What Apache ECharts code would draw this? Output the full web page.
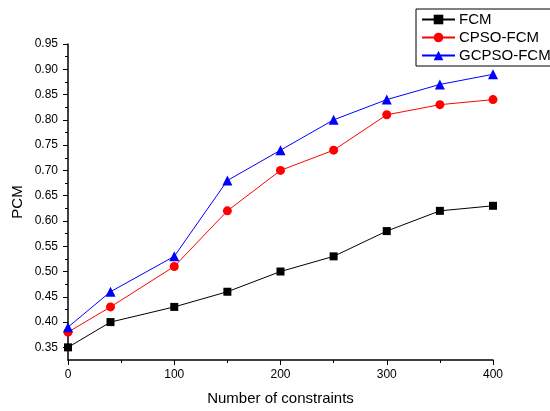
<!DOCTYPE html>
<html>
<head>
<meta charset="utf-8">
<script src="https://cdn.jsdelivr.net/npm/echarts@6/dist/echarts.min.js"></script>
<style>
html,body{margin:0;padding:0;background:#fff;}
#chart{width:550px;height:411px;}
</style>
</head>
<body>
<div id="chart"></div>
<script>
// data
var xVals = [0, 40, 100, 150, 200, 250, 300, 350, 400];
var fcm = [0.35, 0.40, 0.43, 0.46, 0.50, 0.53, 0.58, 0.62, 0.63];
var cpso = [0.38, 0.43, 0.51, 0.62, 0.70, 0.74, 0.81, 0.83, 0.84];
var gcpso = [0.39, 0.46, 0.53, 0.68, 0.74, 0.80, 0.84, 0.87, 0.89];
var yMajor = [0.35, 0.40, 0.45, 0.50, 0.55, 0.60, 0.65, 0.70, 0.75, 0.80, 0.85, 0.90, 0.95];
var yMinor = [0.375, 0.425, 0.475, 0.525, 0.575, 0.625, 0.675, 0.725, 0.775, 0.825, 0.875, 0.925];

function pairs(ys) {
	return xVals.map(function (x, i) { return [x, ys[i]]; });
}

var myChart = echarts.init(document.getElementById('chart'));
var font = 'Liberation Sans, Arial, sans-serif';

var option = {
	animation: false,
	grid: { left: 68, right: 57, top: 44, bottom: 51 },
	legend: {
		orient: 'vertical',
		left: 416,
		top: 9,
		padding: [3, 12, 3, 5],
		itemGap: 3,
		itemWidth: 33,
		itemHeight: 12,
		borderColor: '#000',
		borderWidth: 1,
		borderRadius: 0,
		textStyle: { fontFamily: font, fontSize: 15, color: '#000', padding: [0, 0, 0, -1] },
		data: ['FCM', 'CPSO-FCM', 'GCPSO-FCM']
	},
	xAxis: {
		type: 'value',
		min: 0, max: 400, interval: 100,
		name: 'Number of constraints',
		nameLocation: 'middle',
		nameGap: 31,
		nameMoveOverlap: false,
		nameTextStyle: { fontFamily: font, fontSize: 15, color: '#000' },
		axisLine: { lineStyle: { color: '#000', width: 1.5 } },
		axisTick: { length: 5, lineStyle: { color: '#000' } },
		minorTick: { show: true, splitNumber: 2, length: 3, lineStyle: { color: '#000' } },
		axisLabel: { fontFamily: font, fontSize: 12, color: '#000', margin: 9 },
		splitLine: { show: false }
	},
	yAxis: [{
		type: 'value',
		min: 0.325, max: 0.95,
		name: 'PCM',
		nameLocation: 'middle',
		nameGap: 43,
		nameMoveOverlap: false,
		nameTextStyle: { fontFamily: font, fontSize: 15, color: '#000' },
		axisLine: { lineStyle: { color: '#000', width: 1.5 } },
		axisTick: { length: 5, customValues: yMajor, lineStyle: { color: '#000' } },
		axisLabel: {
			fontFamily: font, fontSize: 12, color: '#000', margin: 10,
			customValues: yMajor,
			formatter: function (v) { return v.toFixed(2); }
		},
		splitLine: { show: false }
	}, {
		type: 'value',
		position: 'left',
		min: 0.325, max: 0.95,
		axisLine: { show: false },
		axisTick: { length: 3, customValues: yMinor, lineStyle: { color: '#000' } },
		axisLabel: { show: false, customValues: yMinor },
		splitLine: { show: false }
	}],
	series: [{
		name: 'FCM',
		type: 'line',
		data: pairs(fcm),
		symbol: 'rect',
		symbolSize: 8,
		color: '#000',
		lineStyle: { width: 1 }
	}, {
		name: 'CPSO-FCM',
		type: 'line',
		data: pairs(cpso),
		symbol: 'circle',
		symbolSize: 9,
		color: '#ff0000',
		lineStyle: { width: 1 }
	}, {
		name: 'GCPSO-FCM',
		type: 'line',
		data: pairs(gcpso),
		symbol: 'triangle',
		symbolSize: 10,
		color: '#0000ff',
		lineStyle: { width: 1 }
	}]
};
myChart.setOption(option);
</script>
</body>
</html>
